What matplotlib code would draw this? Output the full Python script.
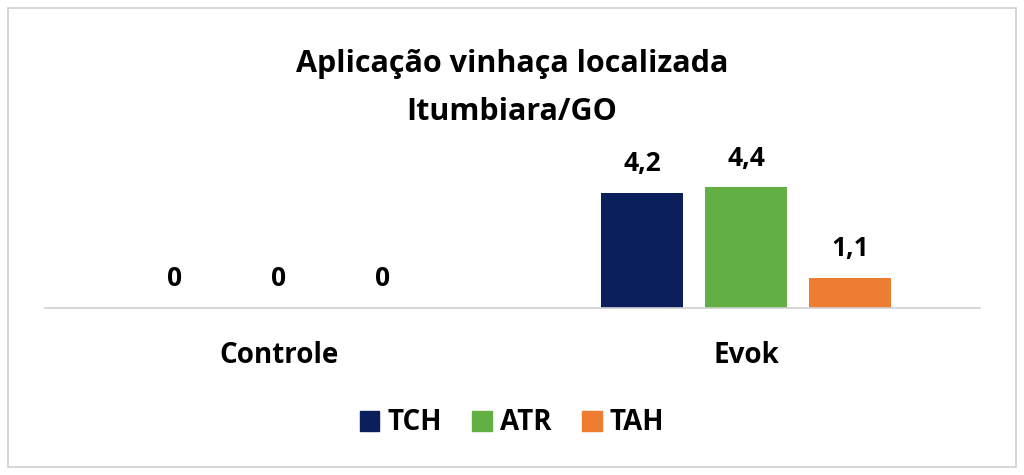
import matplotlib
matplotlib.use("Agg")
import matplotlib.pyplot as plt
from matplotlib.patches import Rectangle, Patch
import numpy as np

categories = ["Controle", "Evok"]
series = ["TCH", "ATR", "TAH"]
values = {
    "TCH": [0, 4.2],
    "ATR": [0, 4.4],
    "TAH": [0, 1.1],
}
labels = {
    "TCH": ["0", "4,2"],
    "ATR": ["0", "4,4"],
    "TAH": ["0", "1,1"],
}
colors = {"TCH": "#0b1f5c", "ATR": "#62b043", "TAH": "#ee7d31"}

plt.rcParams['font.family'] = ['Open Sans', 'DejaVu Sans']

fig = plt.figure(figsize=(10.24, 4.75), dpi=100)
fig.patches.append(Rectangle((8/1024, 8/475), 1008/1024, 459/475, transform=fig.transFigure,
                             fill=False, edgecolor="#d0d0d0", linewidth=1.2))

ax = fig.add_axes([45/1024, 167/475, 935/1024, 168/475])
x = np.arange(len(categories))
w = 0.175
step = 0.2225
for i, s in enumerate(series):
    pos = x + (i - 1) * step
    bars = ax.bar(pos, values[s], width=w, color=colors[s], label=s)
    for b, lab in zip(bars, labels[s]):
        ax.annotate(lab, (b.get_x() + b.get_width() / 2, b.get_height()),
                    xytext=(0, 21), textcoords="offset points", ha="center", va="center",
                    fontsize=19, fontweight="bold", color="black")

ax.set_xlim(-0.5, 1.5)
ax.set_ylim(0, 168 / 27.4)
for sp in ["top", "right", "left"]:
    ax.spines[sp].set_visible(False)
ax.spines["bottom"].set_color("#d0d0d0")
ax.spines["bottom"].set_linewidth(1.2)
ax.set_yticks([])
ax.set_xticks(x)
ax.set_xticklabels(categories, fontsize=20, fontweight="bold")
ax.tick_params(axis="x", length=0, pad=24)

fig.text(0.5, 1 - 64/475, "Aplicação vinhaça localizada", ha="center", va="center",
         fontsize=22, fontweight="bold")
fig.text(0.5, 1 - 112/475, "Itumbiara/GO", ha="center", va="center",
         fontsize=22, fontweight="bold")

handles = [Patch(color=colors[s]) for s in series]
fig.legend(handles, series, loc="center", bbox_to_anchor=(0.5, 1 - 423/475), ncol=3,
           frameon=False, prop={"size": 20, "weight": "bold"}, handlelength=0.7,
           handleheight=0.7, handletextpad=0.3, columnspacing=1.1)

fig.savefig("out.png", dpi=100)
